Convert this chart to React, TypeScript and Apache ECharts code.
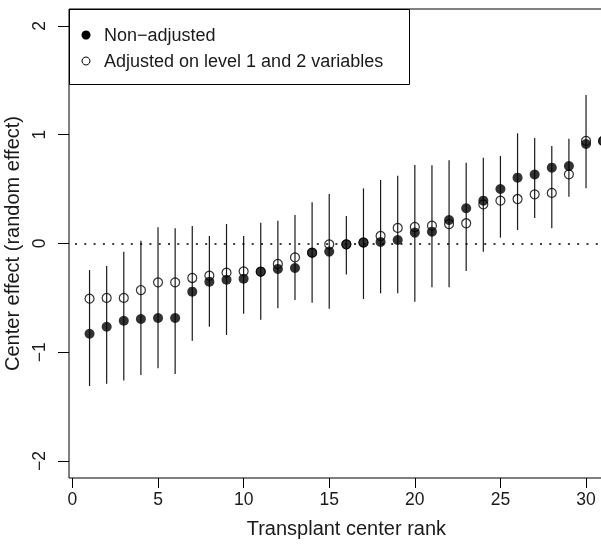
import React, { useEffect, useRef } from "react";
import * as echarts from "echarts";

const rank = [1,2,3,4,5,6,7,8,9,10,11,12,13,14,15,16,17,18,19,20,21,22,23,24,25,26,27,28,29,30,31];
const nonAdjusted = [-0.83,-0.765,-0.71,-0.694,-0.685,-0.685,-0.443,-0.351,-0.333,-0.324,-0.259,-0.234,-0.225,-0.084,-0.074,-0.008,0.008,0.014,0.032,0.1,0.109,0.216,0.324,0.394,0.501,0.605,0.634,0.697,0.712,0.915,0.943];
const adjusted = [-0.507,-0.5,-0.5,-0.428,-0.357,-0.357,-0.317,-0.296,-0.268,-0.256,-0.259,-0.188,-0.128,-0.084,-0.008,-0.008,0.01,0.069,0.143,0.152,0.164,0.179,0.186,0.36,0.394,0.409,0.452,0.465,0.636,0.943,0.943];
const upper = [-0.244,-0.207,-0.075,0.026,0.149,0.14,0.161,0.069,0.179,0.069,0.191,0.21,0.262,0.379,0.455,0.253,0.507,0.584,0.624,0.722,0.719,0.765,0.743,0.789,0.805,1.013,0.97,0.897,0.964,1.366,1.252];
const lower = [-1.31,-1.29,-1.26,-1.21,-1.148,-1.2,-0.894,-0.765,-0.841,-0.645,-0.7,-0.596,-0.52,-0.544,-0.6,-0.284,-0.51,-0.458,-0.458,-0.535,-0.403,-0.403,-0.253,-0.075,0.054,0.124,0.235,0.14,0.43,0.507,0.645];
const xTicks = [0,5,10,15,20,25,30];
const yTicks = [-2,-1,0,1,2];
const legendLabels = ["Non\u2212adjusted", "Adjusted on level 1 and 2 variables"];

const FONT = "'Liberation Sans', Arial, Helvetica, sans-serif";

export default function App() {
  const ref = useRef<HTMLDivElement>(null);
  useEffect(() => {
    if (!ref.current) return;
    const chart = echarts.init(ref.current, null, { renderer: "svg" });
    const bars = rank.map((r, i) => [r, lower[i], upper[i]]);
    chart.setOption({
      animation: false,
      textStyle: { fontFamily: FONT, color: "#000" },
      grid: {
        left: 69, top: 9, width: 554.7, height: 469,
        show: true, borderColor: "#000", borderWidth: 1,
        containLabel: false, outerBoundsMode: "none",
      },
      xAxis: {
        type: "value", min: -0.2, max: 32.2,
        axisLine: { show: false, onZero: false },
        splitLine: { show: false },
        axisTick: { show: true, customValues: xTicks, length: 10, lineStyle: { color: "#000", width: 1 } },
        axisLabel: { customValues: xTicks, fontSize: 17.5, color: "#1a1a1a", margin: 12, fontFamily: FONT },
        name: "Transplant center rank", nameLocation: "middle", nameGap: 40,
        nameTextStyle: { fontSize: 20, color: "#1a1a1a", fontFamily: FONT },
      },
      yAxis: {
        type: "value", min: -2.156, max: 2.156,
        axisLine: { show: false, onZero: false },
        splitLine: { show: false },
        axisTick: { show: true, customValues: yTicks, length: 11, lineStyle: { color: "#000", width: 1 } },
        axisLabel: {
          customValues: yTicks, fontSize: 17.5, color: "#1a1a1a", margin: 21, rotate: 90, fontFamily: FONT,
          formatter: (v: number) => String(v).replace("-", "\u2212"),
        },
        name: "Center effect (random effect)", nameLocation: "middle", nameGap: 46, nameRotate: 90,
        nameTextStyle: { fontSize: 20, color: "#1a1a1a", fontFamily: FONT },
      },
      series: [
        {
          type: "custom",
          data: bars,
          encode: { x: 0, y: [1, 2] },
          renderItem: (params: any, api: any) => {
            const x = api.value(0);
            const p1 = api.coord([x, api.value(1)]);
            const p2 = api.coord([x, api.value(2)]);
            return {
              type: "line",
              shape: { x1: p1[0], y1: p1[1], x2: p2[0], y2: p2[1] },
              style: { stroke: "#1a1a1a", lineWidth: 1.2 },
            };
          },
          markLine: {
            silent: true,
            symbol: ["none", "none"],
            label: { show: false },
            lineStyle: { type: [2, 7.3], dashOffset: -6, color: "#000", width: 1.6 },
            data: [{ yAxis: 0 }],
          },
          z: 1,
        },
        {
          type: "scatter",
          name: legendLabels[0],
          data: rank.map((r, i) => [r, nonAdjusted[i]]),
          symbol: "circle", symbolSize: 10,
          itemStyle: { color: "#000" },
          z: 2,
        },
        {
          type: "scatter",
          name: legendLabels[1],
          data: rank.map((r, i) => [r, adjusted[i]]),
          symbol: "circle", symbolSize: 9,
          itemStyle: { color: "rgba(0,0,0,0)", borderColor: "#000", borderWidth: 1.2 },
          z: 3,
        },
      ],
      graphic: [
        {
          type: "group", z: 100,
          children: [
            { type: "rect", shape: { x: 69.5, y: 9.5, width: 340, height: 75 }, style: { fill: "#fff", stroke: "#000", lineWidth: 1 } },
            { type: "circle", shape: { cx: 86, cy: 35, r: 4.5 }, style: { fill: "#000" } },
            { type: "circle", shape: { cx: 86, cy: 61, r: 4 }, style: { fill: "none", stroke: "#000", lineWidth: 1 } },
            { type: "text", x: 104, y: 35, style: { text: legendLabels[0], fontSize: 18, fontFamily: FONT, fill: "#1a1a1a", verticalAlign: "middle", align: "left" } },
            { type: "text", x: 104, y: 61, style: { text: legendLabels[1], fontSize: 18, fontFamily: FONT, fill: "#1a1a1a", verticalAlign: "middle", align: "left" } },
          ],
        },
      ],
    });
    return () => chart.dispose();
  }, []);
  return <div ref={ref} style={{ position: "fixed", left: 0, top: 0, width: 601, height: 546 }} />;
}
